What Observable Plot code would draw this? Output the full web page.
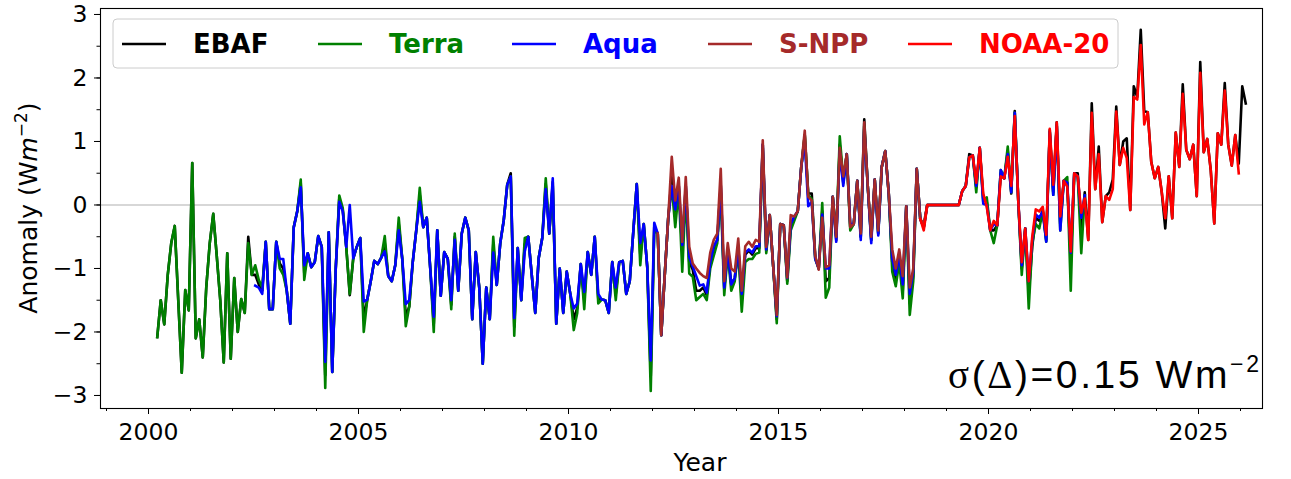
<!DOCTYPE html>
<html><head><meta charset="utf-8">
<script src="https://cdn.jsdelivr.net/npm/d3@7"></script>
<script src="https://cdn.jsdelivr.net/npm/@observablehq/plot@0.6"></script>
<style>
html,body{margin:0;padding:0;background:#fff;}
#chart{position:relative;width:1291px;height:479px;overflow:hidden;}
</style></head><body><div id="chart"></div>
<script>
// ---- data (monthly anomalies, W m-2) ----
const seriesNames  = ["EBAF", "Terra", "Aqua", "S-NPP", "NOAA-20"];
const seriesColors = ["#000000", "#008000", "#0000ff", "#a52a2a", "#ff0000"];
const seriesStart  = ["2000-03", "2000-03", "2002-07", "2012-02", "2018-05"];

const ebaf = [
 -2.08,-1.5,-1.88,-1.1,-0.6,-0.33,-1.5,-2.64,-1.34,-1.66,
 0.66,-2.1,-1.8,-2.4,-1.3,-0.6,-0.14,-0.8,-1.5,-2.48,-0.76,-2.42,
 -1.15,-2.0,-1.48,-1.7,-0.5,-1.1,-1.1,-1.25,-1.35,-0.58,-1.64,-1.64,
 -0.58,-0.92,-1.0,-1.35,-1.87,-0.35,-0.1,0.34,-1.07,-0.76,-0.98,-0.9,
 -0.49,-0.66,-2.68,-0.43,-2.63,-1.0,0.1,-0.08,-0.66,-1.42,-0.84,-0.66,
 -0.52,-1.8,-1.49,-1.2,-0.88,-0.93,-0.83,-0.6,-1.12,-1.2,-0.95,-0.3,
 -0.85,-1.75,-1.6,-0.9,-0.4,0.16,-0.35,-0.2,-1.0,-1.88,-0.4,-1.43,
 -0.74,-0.85,-1.57,-0.5,-1.35,-0.45,-0.2,-0.4,-1.8,-0.74,-1.3,-2.5,
 -1.3,-1.8,-0.62,-1.26,-0.6,-0.24,0.32,0.5,-1.92,-0.68,-1.5,-0.62,
 -0.5,-1.1,-1.7,-0.83,-0.52,0.33,-0.45,0.36,-1.87,-1.0,-1.7,-1.05,
 -1.4,-1.8,-1.62,-0.93,-1.5,-0.74,-1.1,-0.5,-1.47,-1.49,-1.5,-1.7,
 -0.9,-1.4,-0.9,-0.88,-1.4,-1.2,-0.43,0.33,-0.78,-0.3,-0.98,-2.7,
 -0.34,-0.45,-2.05,-1.1,-0.2,0.45,-0.15,0.3,-0.75,0.3,-0.9,-1.02,
 -1.35,-1.35,-1.3,-1.42,-0.92,-0.68,-0.55,0.32,-1.32,-0.7,-1.25,-1.15,
 -0.66,-1.5,-0.78,-0.72,-0.78,-0.68,-0.68,0.95,-0.72,-0.16,-0.98,-1.8,
 -0.3,-0.32,-1.2,-0.3,-0.2,-0.1,0.6,1.1,0.18,0.18,-0.83,-1.0,
 -0.1,-1.2,-1.15,0.13,-0.55,0.95,0.35,0.8,-0.35,-0.3,0.38,-0.5,
 1.35,0.3,-0.55,0.4,-0.45,0.6,0.85,0.18,-0.9,-1.18,-0.8,-1.35,
 -0.02,-1.55,-1.12,0.57,-0.22,-0.35,0,0,0,0,0,0,
 0,0,0,0,0.22,0.3,0.8,0.78,0.28,0.9,0.1,0.05,
 -0.4,-0.4,-0.32,0.5,0.42,0.85,0.18,1.48,0.07,-1.0,-0.37,-1.4,
 -0.65,-0.2,-0.25,-0.08,-0.55,1.18,0.2,1.3,-0.3,0.38,0.35,-0.9,
 0.5,0.5,-0.4,0.2,-0.55,1.6,0.25,0.92,-0.27,0.14,0.2,0.4,
 1.55,0.63,1.0,1.05,-0.08,1.87,1.7,2.76,1.48,1.46,0.68,0.42,
 0.6,0.2,-0.37,0.45,-0.21,1.14,0.6,1.9,0.87,0.72,0.95,0.14,
 2.25,0.83,1.04,0.55,-0.29,1.13,0.95,1.92,0.95,0.62,1.1,0.65,
 1.87,1.6
];
const terra = [
 -2.08,-1.5,-1.88,-1.1,-0.6,-0.33,-1.5,-2.64,-1.34,-1.66,
 0.66,-2.1,-1.8,-2.4,-1.3,-0.6,-0.14,-0.8,-1.5,-2.48,-0.76,-2.42,
 -1.15,-2.0,-1.48,-1.7,-0.6,-1.1,-0.95,-1.18,-1.3,-0.58,-1.64,-1.64,
 -0.58,-1.0,-1.1,-1.35,-1.87,-0.35,-0.1,0.4,-1.18,-0.76,-0.98,-0.9,
 -0.49,-0.66,-2.88,-0.43,-2.63,-1.0,0.15,-0.05,-0.66,-1.4,-0.84,-0.66,
 -0.52,-2.0,-1.49,-1.2,-0.88,-0.93,-0.83,-0.49,-1.12,-1.2,-0.95,-0.2,
 -0.85,-1.91,-1.6,-0.9,-0.4,0.27,-0.35,-0.2,-1.0,-2.0,-0.4,-1.43,
 -0.74,-0.85,-1.64,-0.45,-1.35,-0.45,-0.2,-0.4,-1.8,-0.74,-1.3,-2.5,
 -1.3,-1.8,-0.5,-1.26,-0.6,-0.24,0.32,0.45,-2.06,-0.68,-1.5,-0.52,
 -0.5,-1.1,-1.7,-0.83,-0.52,0.42,-0.45,0.3,-1.87,-1.0,-1.7,-1.05,
 -1.4,-1.97,-1.7,-0.93,-1.64,-0.74,-1.1,-0.5,-1.55,-1.49,-1.5,-1.7,
 -0.9,-1.5,-0.9,-0.88,-1.4,-1.2,-0.43,0.33,-0.95,-0.3,-0.98,-2.93,
 -0.4,-0.45,-2.05,-1.1,-0.2,0.3,-0.35,0.25,-1.05,0.2,-1.08,-1.13,
 -1.5,-1.45,-1.4,-1.5,-1.0,-0.8,-0.6,0.2,-1.42,-0.75,-1.35,-1.2,
 -0.72,-1.68,-0.9,-0.85,-0.85,-0.77,-0.75,0.9,-0.76,-0.16,-0.98,-1.86,
 -0.3,-0.32,-1.24,-0.4,-0.25,-0.1,0.6,1.1,0.15,0.1,-0.85,-1.0,
 0.03,-1.46,-1.3,0.13,-0.5,1.08,0.4,0.8,-0.4,-0.3,0.38,-0.5,
 1.25,0.3,-0.55,0.4,-0.45,0.6,0.85,0.18,-1.05,-1.28,-0.9,-1.47,
 -0.02,-1.73,-1.2,0.57,-0.22,-0.35,0,0,0,0,0,0,
 0,0,0,0,0.22,0.3,0.75,0.78,0.2,0.9,0.05,0.12,
 -0.4,-0.6,-0.32,0.55,0.42,0.92,0.2,1.45,0.07,-1.1,-0.37,-1.63,
 -0.6,-0.3,-0.37,-0.1,-0.58,1.15,0.16,1.25,-0.4,0.38,0.44,-1.35,
 0.5,0.45,-0.76,0.15
];
const aqua = [
 -1.27,-1.3,-1.4,-0.58,-1.64,-1.64,
 -0.58,-0.85,-0.85,-1.35,-1.87,-0.35,-0.1,0.28,-0.95,-0.76,-0.98,-0.9,
 -0.49,-0.66,-2.47,-0.43,-2.63,-1.0,0.05,-0.1,-0.66,0.0,-0.84,-0.66,
 -0.52,-1.52,-1.49,-1.2,-0.88,-0.93,-0.83,-0.73,-1.12,-1.2,-0.95,-0.4,
 -0.85,-1.56,-1.5,-0.9,-0.4,0.05,-0.35,-0.2,-1.0,-1.76,-0.4,-1.43,
 -0.74,-0.85,-1.5,-0.55,-1.35,-0.45,-0.2,-0.4,-1.8,-0.74,-1.3,-2.5,
 -1.3,-1.8,-0.75,-1.26,-0.6,-0.24,0.32,0.45,-1.78,-0.68,-1.5,-0.73,
 -0.5,-1.1,-1.7,-0.83,-0.52,0.25,-0.45,0.42,-1.87,-1.0,-1.7,-1.05,
 -1.4,-1.63,-1.55,-0.93,-1.37,-0.74,-1.1,-0.5,-1.4,-1.49,-1.5,-1.7,
 -0.9,-1.3,-0.9,-0.88,-1.4,-1.2,-0.43,0.33,-0.6,-0.3,-0.98,-2.45,
 -0.28,-0.45,-2.05,-1.1,-0.2,0.3,-0.07,0.3,-0.63,0.3,-0.82,-0.97,
 -1.12,-1.27,-1.25,-1.38,-0.9,-0.65,-0.55,0.3,-1.3,-0.7,-1.25,-1.15,
 -0.68,-1.4,-0.75,-0.7,-0.75,-0.65,-0.65,0.95,-0.7,-0.16,-0.98,-1.75,
 -0.3,-0.32,-1.15,-0.3,-0.18,-0.1,0.6,1.0,-0.02,0.05,-0.85,-1.0,
 -0.15,-1.0,-1.0,0.13,-0.58,0.85,0.3,0.8,-0.3,-0.3,0.38,-0.55,
 1.2,0.3,-0.6,0.4,-0.48,0.6,0.85,0.18,-0.85,-1.1,-0.8,-1.25,
 -0.02,-1.4,-1.05,0.57,-0.22,-0.35,0,0,0,0,0,0,
 0,0,0,0,0.22,0.3,0.75,0.78,0.3,0.9,0.02,0.0,
 -0.4,-0.3,-0.32,0.55,0.42,0.8,0.2,1.45,0.07,-0.95,-0.37,-1.2,
 -0.55,-0.15,-0.2,-0.1,-0.58,1.15,0.16,1.25,-0.4,0.38,0.35,-0.75,
 0.5,0.45,-0.2,0.15
];
const snpp = [
 -0.45,-2.05,-1.1,-0.2,0.76,0.07,0.43,-0.58,0.44,-0.66,-0.92,
 -1.0,-1.07,-1.12,-1.15,-0.75,-0.55,-0.45,0.57,-1.2,-0.6,-1.0,-1.05,
 -0.53,-1.35,-0.65,-0.58,-0.66,-0.55,-0.58,1.02,-0.66,-0.16,-0.98,-1.73,
 -0.3,-0.32,-1.14,-0.16,-0.18,-0.1,0.6,1.17,0.13,0.07,-0.8,-1.02,
 -0.2,-0.98,-0.95,0.13,-0.5,0.9,0.45,0.8,-0.35,-0.3,0.38,-0.45,
 1.3,0.3,-0.5,0.4,-0.4,0.6,0.85,0.18,-0.7,-1.0,-0.7,-1.12,
 -0.02,-1.3,-1.0,0.57,-0.22,-0.3,0,0,0,0,0,0,
 0,0,0,0
];
const noaa20 = [
 -0.22,-0.4,0,0,0,0,0,0,
 0,0,0,0,0.22,0.3,0.75,0.78,0.35,0.9,0.18,-0.03,
 -0.4,-0.25,-0.32,0.45,0.42,0.76,0.3,1.4,0.07,-0.9,-0.37,-1.2,
 -0.5,-0.07,-0.1,-0.03,-0.47,1.2,0.32,1.3,-0.18,0.38,0.29,-0.73,
 0.5,0.45,-0.12,0.1,-0.55,1.45,0.25,0.8,-0.27,0.14,0.08,0.25,
 1.47,0.63,0.9,0.74,-0.08,1.7,1.66,2.52,1.27,1.46,0.68,0.42,
 0.6,0.2,-0.21,0.45,-0.21,1.14,0.6,1.75,0.87,0.72,0.95,0.14,
 2.08,0.83,1.04,0.55,-0.29,1.13,0.95,1.8,0.95,0.62,1.1,0.5
];
const seriesValues = [ebaf, terra, aqua, snpp, noaa20];

const xTicks = [2000, 2005, 2010, 2015, 2020, 2025];
const xMinorTicks = d3.range(1999, 2027);
const yTicks = [-3, -2, -1, 0, 1, 2, 3];
const yMinorTicks = d3.range(-3, 3.01, 0.5);
const xLabel = "Year";
const yLabelParts = ["Anomaly (W", "m", "\u22122", ")"];
const noteParts = ["\u03c3", "(", "\u0394", ")=0.15 Wm", "\u22122"];

// ---- build table ----
function rowsFor(k) {
  const [y0, m0] = seriesStart[k].split("-").map(Number);
  return seriesValues[k].map((v, i) => ({series: seriesNames[k], t: y0 + (m0 - 1 + i + 0.5) / 12, v}));
}
const tables = seriesNames.map((_, k) => rowsFor(k));

// ---- layout ----
const W = 1291, H = 479, mL = 100, mR = 29, mT = 8, mB = 71;
const px0 = 148, pxPerYear = 42;
const xDom = [2000 - (px0 - mL) / pxPerYear, 2000 + (W - mR - px0) / pxPerYear];
const yDom = [-3.205, 3.094];
const fmtY = d => d < 0 ? "\u2212" + Math.abs(d) : String(d);
const FONT = "'DejaVu Sans', sans-serif";

const chart = Plot.plot({
  width: W, height: H,
  marginLeft: mL, marginRight: mR, marginTop: mT, marginBottom: mB,
  style: {fontFamily: FONT, fontSize: "23px", color: "#000", background: "#fff", overflow: "visible"},
  x: {domain: xDom},
  y: {domain: yDom},
  marks: [
    Plot.ruleY([0], {stroke: "#b0b0b0", strokeWidth: 1.2}),
    ...tables.map((rows, k) => Plot.line(rows, {x: "t", y: "v", stroke: seriesColors[k], strokeWidth: 2.6, strokeLinejoin: "round", strokeLinecap: "square"})),
    Plot.frame({stroke: "#000", strokeWidth: 1.1}),
    Plot.axisX(xMinorTicks, {tickSize: 3, tickFormat: () => "", label: null, stroke: "#000"}),
    Plot.axisX(xTicks, {tickSize: 6, tickPadding: 9, tickFormat: d => String(d), label: null, fontSize: 23.5, stroke: "#000"}),
    Plot.axisY(yMinorTicks, {tickSize: 3.5, tickFormat: () => "", label: null, stroke: "#000"}),
    Plot.axisY(yTicks, {tickSize: 6, tickPadding: 7, tickFormat: fmtY, label: null, fontSize: 23.5, stroke: "#000"})
  ]
});
document.getElementById("chart").appendChild(chart);

// ---- annotations: legend, axis titles, note ----
const svg = d3.select(chart);
const g = svg.append("g").attr("text-anchor", "start");

// x title
g.append("text").attr("x", 700).attr("y", 471).attr("text-anchor", "middle")
  .attr("font-size", 25).attr("font-family", FONT).text(xLabel);

// y title
const yt = g.append("text").attr("transform", "translate(37,208) rotate(-90)").attr("text-anchor", "middle")
  .attr("font-size", 25).attr("font-family", FONT);
yt.append("tspan").text(yLabelParts[0]);
yt.append("tspan").attr("font-style", "italic").text(yLabelParts[1]);
yt.append("tspan").attr("font-size", 17).attr("dy", -10).text(yLabelParts[2]);
yt.append("tspan").attr("dy", 10).text(yLabelParts[3]);

// legend
const lg = g.append("g");
lg.append("rect").attr("x", 113).attr("y", 19).attr("width", 1005).attr("height", 49).attr("rx", 4)
  .attr("fill", "#fff").attr("fill-opacity", 0.8).attr("stroke", "#cccccc").attr("stroke-width", 1);
const legX = [122, 318, 512, 708, 908];
seriesNames.forEach((name, k) => {
  lg.append("line").attr("x1", legX[k]).attr("x2", legX[k] + 44).attr("y1", 44).attr("y2", 44)
    .attr("stroke", seriesColors[k]).attr("stroke-width", 2.6);
  lg.append("text").attr("x", legX[k] + 71).attr("y", 44).attr("dy", "0.36em").attr("text-anchor", "start")
    .attr("font-size", 26).attr("font-weight", "bold").attr("font-family", FONT)
    .attr("fill", seriesColors[k]).text(name);
});

// sigma note
const nt = g.append("text").attr("x", 948).attr("y", 388).attr("text-anchor", "start").attr("font-size", 39)
  .attr("letter-spacing", 2.6).attr("font-family", "'Liberation Sans', Arial, sans-serif").attr("fill", "#000");
nt.append("tspan").attr("font-family", "'Liberation Serif', serif").text(noteParts[0]);
nt.append("tspan").text(noteParts[1]);
nt.append("tspan").attr("font-family", "'Liberation Serif', serif").text(noteParts[2]);
nt.append("tspan").text(noteParts[3]);
nt.append("tspan").attr("font-size", 23).attr("dy", -16).text(noteParts[4]);
</script></body></html>
